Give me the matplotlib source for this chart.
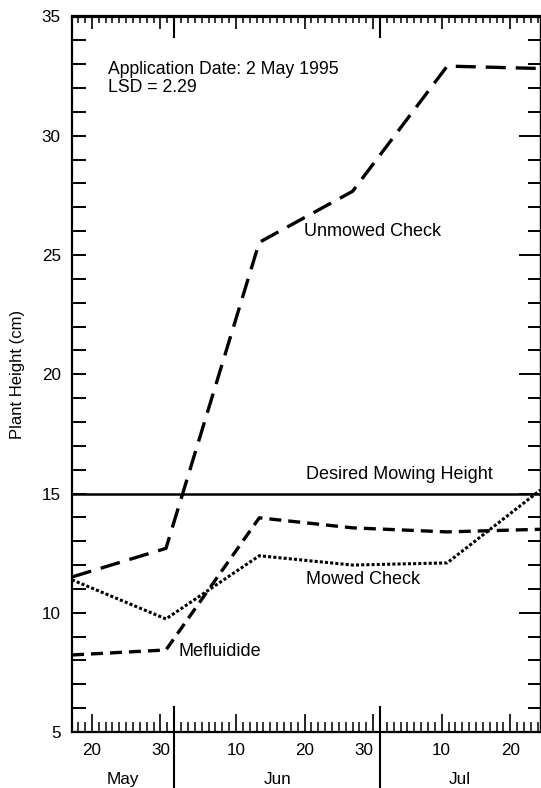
import numpy as np
import matplotlib
matplotlib.use('Agg')
import matplotlib.pyplot as plt
from matplotlib.ticker import FixedLocator, NullFormatter
import matplotlib.transforms as mtransforms

# days counted from 30 April (so 20 = 20 May, 32 = 1 Jun, 62 = 1 Jul)
sample_days = [17.1, 30.8, 44.4, 58.0, 71.8, 85.4]

unmowed_check = [11.5, 12.7, 25.53, 27.67, 32.92, 32.82]
mefluidide = [8.23, 8.44, 13.98, 13.56, 13.39, 13.5]
mowed_check = [11.38, 9.74, 12.39, 12.0, 12.09, 15.15]
desired_height = 15

day_ticks = [20, 30, 41, 51, 61, 71, 81]
day_labels = ['20', '30', '10', '20', '30', '10', '20']
month_bounds = [32, 62]
month_names = ['May', 'Jun', 'Jul']

x_min, x_max = 17.1, 85.4
y_min, y_max = 5, 35

plt.rcParams['font.family'] = ['Liberation Sans', 'DejaVu Sans']


def draw():
    fig = plt.figure(figsize=(5.41, 7.88), dpi=100)
    ax = fig.add_axes([72 / 541, 1 - 732 / 788, 468.5 / 541, 715.5 / 788])

    # curves
    ax.plot(sample_days, unmowed_check, color='black', lw=2.4,
            dashes=(6, 3), dash_capstyle='butt')
    ax.plot(sample_days, mefluidide, color='black', lw=2.4,
            dashes=(3.6, 2.1), dash_capstyle='butt')
    ax.plot(sample_days, mowed_check, color='black', lw=2.2,
            dashes=(1, 0.7), dash_capstyle='butt')
    ax.axhline(desired_height, color='black', lw=1.8)

    ax.set_xlim(x_min, x_max)
    ax.set_ylim(y_min, y_max)
    for s in ax.spines.values():
        s.set_linewidth(1.6)

    # y axis, left
    ax.yaxis.set_major_locator(FixedLocator(np.arange(5, 36, 5)))
    ax.yaxis.set_minor_locator(FixedLocator(np.arange(5, 36, 1)))
    ax.tick_params(axis='y', which='both', direction='in', length=10,
                   width=1.4, labelsize=12.3, pad=8, right=False)

    # x axis, bottom
    ax.xaxis.set_major_locator(FixedLocator(day_ticks))
    ax.xaxis.set_minor_locator(FixedLocator(np.arange(17, 86, 1)))
    ax.set_xticklabels(day_labels)
    ax.tick_params(axis='x', which='major', direction='in', length=13,
                   width=1.2, labelsize=12.3, pad=8, top=False)
    ax.tick_params(axis='x', which='minor', direction='in', length=7,
                   width=1.1, top=False)
    # the Jun 30 label sits left of the month line
    ax.get_xticklabels()[4].set_horizontalalignment('right')

    # top and right ticks
    top = ax.secondary_xaxis('top')
    top.xaxis.set_major_locator(FixedLocator(day_ticks))
    top.xaxis.set_minor_locator(FixedLocator(np.arange(17, 86, 1)))
    top.xaxis.set_major_formatter(NullFormatter())
    top.tick_params(which='major', direction='in', length=9, width=1.2)
    top.tick_params(which='minor', direction='in', length=5, width=1.1)
    top.spines['top'].set_linewidth(1.6)

    right = ax.secondary_yaxis('right')
    right.yaxis.set_major_locator(FixedLocator(np.arange(5, 36, 5)))
    right.yaxis.set_minor_locator(FixedLocator(np.arange(5, 36, 1)))
    right.yaxis.set_major_formatter(NullFormatter())
    right.tick_params(which='major', direction='in', length=16, width=1.4)
    right.tick_params(which='minor', direction='in', length=9.5, width=1.4)
    right.spines['right'].set_linewidth(1.6)

    # month separators and month names
    trans = mtransforms.blended_transform_factory(ax.transData, ax.transAxes)
    for b in month_bounds:
        ax.plot([b, b], [0.035, -0.08], color='black', lw=1.5,
                transform=trans, clip_on=False)
        ax.plot([b, b], [1, 0.971], color='black', lw=1.5,
                transform=trans, clip_on=False)
    edges = [x_min] + month_bounds + [x_max]
    for i, name in enumerate(month_names):
        ax.text((edges[i] + edges[i + 1]) / 2, -0.067, name, transform=trans,
                ha='center', va='center', fontsize=12.3)

    # annotations
    ax.text(22.3, 32.78, 'Application Date: 2 May 1995', fontsize=12.7,
            va='center', ha='left')
    ax.text(22.3, 32.02, 'LSD = 2.29', fontsize=12.7, va='center', ha='left')
    ax.text(50.95, 25.98, 'Unmowed Check', fontsize=13, va='center')
    ax.text(51.25, 15.78, 'Desired Mowing Height', fontsize=13, va='center')
    ax.text(51.25, 11.38, 'Mowed Check', fontsize=13, va='center')
    ax.text(32.57, 8.36, 'Mefluidide', fontsize=13, va='center')

    fig.text(18 / 541, 1 - 374 / 788, 'Plant Height (cm)', rotation=90,
             ha='center', va='center', fontsize=12)

    fig.savefig('out.png', dpi=100)


if __name__ == '__main__':
    draw()
